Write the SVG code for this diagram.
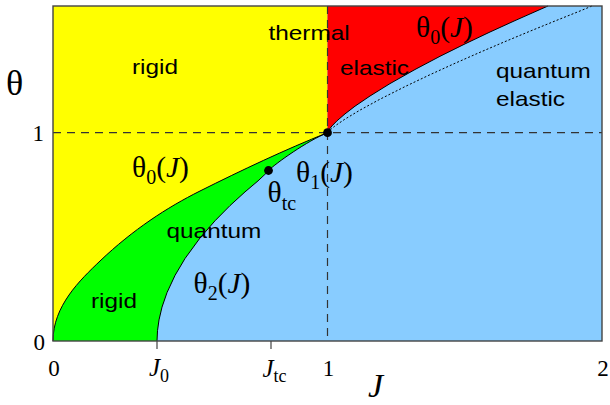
<svg xmlns="http://www.w3.org/2000/svg" width="610" height="405" viewBox="0 0 610 405">
<style>
.sans{font-family:"Liberation Sans",Arial,sans-serif;font-size:21px;fill:#000}
.ser{font-family:"Liberation Serif","Times New Roman",serif;fill:#000}
.math{font-family:"Liberation Serif","Times New Roman",serif;font-size:29.5px;fill:#000}
.tick{font-family:"Liberation Serif","Times New Roman",serif;font-size:23px;fill:#000}
.it{font-style:italic}
.curve{fill:none;stroke:#000;stroke-width:1}
.dash{fill:none;stroke:#333;stroke-width:1.2;stroke-dasharray:8 6}
</style>
<g id="regions">
<rect x="53" y="6" width="549" height="335" fill="#88CCFF"/>
<path id="yellow" fill="#FFFF00" d="M53,6 L327.5,6 L327.5,132.7 C285.5,149.5 242,170 200,191 C167,207.5 133,229.6 100,261 C80,280 53,306 53,341 Z"/>
<path id="red" fill="#FF0000" d="M327.5,6 L548,6 L540,9.5 L515,20.6 L490,32 L465,43.9 L440,56.3 L415,69.5 L390,83.6 L370,96 L355,106.2 L345,113.9 L337,120.8 L332,125.9 L329,129.7 L327.5,132.7 Z"/>
<path id="green" fill="#00FF00" d="M53,341 C53,306 80,280 100,261 C133,229.6 167,207.5 200,191 C242,170 285.5,149.5 327.5,132.7 C307.5,140.7 275.5,163.5 268.5,170.5 L258,180.9 L245,191.9 L230,205.6 L215,220.8 L200,238 L185,258.5 L175,275.4 L167,292.6 L162,307.1 L159,319.9 L157.5,330.7 L157,341 Z"/>
</g>
<g id="connectors">
<path class="curve" d="M53,341 C53,306 80,280 100,261 C133,229.6 167,207.5 200,191 C242,170 285.5,149.5 327.5,132.7"/>
<path class="curve" d="M327.5,132.7 L329,129.7 L332,125.9 L337,120.8 L345,113.9 L355,106.2 L370,96 L390,83.6 L415,69.5 L440,56.3 L465,43.9 L490,32 L515,20.6 L540,9.5 L548,6"/>
<path class="curve" stroke-width="0.8" d="M268.5,170.5 C275.5,163.5 307.5,140.7 327.5,132.7"/>
<path class="curve" stroke="#222" stroke-width="0.8" d="M157,341 L157.5,330.7 L159,319.9 L162,307.1 L167,292.6 L175,275.4 L185,258.5 L200,238 L215,220.8 L230,205.6 L245,191.9 L258,180.9 L268.5,171"/>
<path class="curve" stroke-dasharray="2 2" d="M327.5,132.7 L329,130.9 L335,125.9 L345,119.1 L360,110.1 L380,99.2 L405,86.6 L430,74.7 L455,63.3 L480,52.3 L505,41.6 L530,31.2 L555,21 L580,11 L592,6"/>
<line class="dash" x1="53" y1="132.7" x2="602" y2="132.7"/>
<line class="dash" x1="327.5" y1="6" x2="327.5" y2="341"/>
</g>
<g id="points">
<circle cx="268.5" cy="170.5" r="4.4" fill="#000"/>
<circle cx="327.5" cy="132.7" r="4.4" fill="#000"/>
</g>
<g id="frame">
<rect x="53" y="6" width="549" height="335" fill="none" stroke="#444" stroke-width="1.4"/>
<line x1="157" y1="341" x2="157" y2="349" stroke="#444" stroke-width="1.2"/>
<line x1="271" y1="341" x2="271" y2="349" stroke="#444" stroke-width="1.2"/>
</g>
<g id="labels">
<text class="sans" transform="translate(132,74) scale(1.16,1)">rigid</text>
<text class="sans" transform="translate(268.5,40) scale(1.16,1)">thermal</text>
<text class="sans" transform="translate(340,75) scale(1.16,1)">elastic</text>
<text class="sans" transform="translate(496,78) scale(1.16,1)">quantum</text>
<text class="sans" transform="translate(496,106) scale(1.16,1)">elastic</text>
<text class="sans" transform="translate(166.5,238.3) scale(1.16,1)">quantum</text>
<text class="sans" transform="translate(91,308.3) scale(1.16,1)">rigid</text>
<text class="math" x="132" y="177">θ<tspan font-size="20" dy="7">0</tspan><tspan dy="-7">(</tspan><tspan class="it">J</tspan>)</text>
<text class="math" x="416" y="36.7">θ<tspan font-size="20" dy="7">0</tspan><tspan dy="-7">(</tspan><tspan class="it">J</tspan>)</text>
<text class="math" x="296" y="181.7">θ<tspan font-size="20" dy="7">1</tspan><tspan dy="-7">(</tspan><tspan class="it">J</tspan>)</text>
<text class="math" x="267.5" y="201.7">θ<tspan font-size="20" dy="8">tc</tspan></text>
<text class="math" x="193.5" y="293.3">θ<tspan font-size="20" dy="7">2</tspan><tspan dy="-7">(</tspan><tspan class="it">J</tspan>)</text>
<text class="ser" font-size="36" x="6" y="95">θ</text>
<text class="tick" x="45" y="350" text-anchor="end">0</text>
<text class="tick" x="44" y="141" text-anchor="end">1</text>
<text class="tick" x="54" y="376" text-anchor="middle">0</text>
<text class="tick" x="149" y="376"><tspan class="it" font-size="25">J</tspan><tspan font-size="18" dy="6">0</tspan></text>
<text class="tick" x="262.5" y="376.5"><tspan class="it" font-size="25">J</tspan><tspan font-size="18" dy="5.5">tc</tspan></text>
<text class="tick" x="328.5" y="376" text-anchor="middle">1</text>
<text class="tick" x="603" y="376" text-anchor="middle">2</text>
<text class="ser it" font-size="34" x="368" y="397">J</text>
</g>
</svg>
